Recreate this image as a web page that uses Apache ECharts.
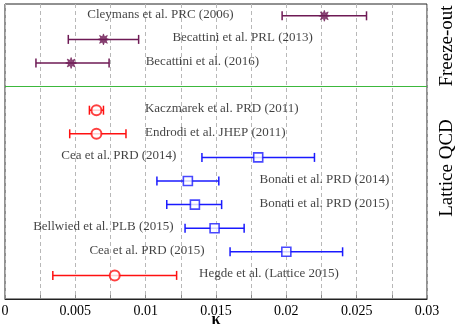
<!DOCTYPE html>
<html><head><meta charset="utf-8">
<script src="https://cdn.jsdelivr.net/npm/echarts@6/dist/echarts.min.js"></script>
<style>html,body{margin:0;padding:0;background:#fff}#c{width:457px;height:328px}</style>
</head><body><div id="c"></div>
<script>
// Data
var names = ["Cleymans et al. PRC (2006)","Becattini et al. PRL (2013)","Becattini et al. (2016)",
  "Kaczmarek et al. PRD (2011)","Endrodi et al. JHEP (2011)","Cea et al. PRD (2014)",
  "Bonati et al. PRD (2014)","Bonati et al. PRD (2015)","Bellwied et al. PLB (2015)",
  "Cea et al. PRD (2015)","Hegde et al. (Lattice 2015)"];
var kappa = [0.0227,0.0070,0.0047,0.0065,0.0065,0.0180,0.0130,0.0135,0.0149,0.0200,0.0078];
var lower = [0.0197,0.0045,0.0022,0.0060,0.0046,0.0140,0.0108,0.0115,0.0128,0.0160,0.0034];
var upper = [0.0257,0.0095,0.0074,0.0070,0.0086,0.0220,0.0152,0.0154,0.0170,0.0240,0.0122];
var rows  = [12,11,10,8,7,6,5,4,3,2,1];
var kinds = ["fo","fo","fo","red","red","blue","blue","blue","blue","blue","red"];
var labelX = [0.00585,0.0119,0.0100,0.00995,0.00995,0.0040,0.0181,0.0181,0.0020,0.0060,0.0138];
var separatorRow = 9;
var xTicks = ["0","0.005","0.01","0.015","0.02","0.025","0.03"];
var xTitle = "κ";
var groupLabels = ["Freeze-out","Lattice QCD"];

var colors = {fo:"#6e1a55", red:"#ff1010", blue:"#1a1aff"};
var star = "path://M20 10 L14.6 11.9 L17.07 17.07 L11.9 14.6 L10 20 L8.1 14.6 L2.93 17.07 L5.4 11.9 L0 10 L5.4 8.1 L2.93 2.93 L8.1 5.4 L10 0 L11.9 5.4 L17.07 2.93 L14.6 8.1 Z";
var serif = "'Liberation Serif','DejaVu Serif',serif";

function pick(kind){
  var out=[];
  for(var i=0;i<names.length;i++) if(kinds[i]===kind) out.push([kappa[i],rows[i]]);
  return out;
}
var errData = names.map(function(n,i){return [lower[i],upper[i],rows[i],i];});
var labelData = names.map(function(n,i){return {value:[labelX[i],rows[i]],name:n};});

var chart = echarts.init(document.getElementById('c'));
chart.setOption({
  animation:false,
  grid:{left:5,right:30,top:4,bottom:29,outerBoundsMode:'none',containLabel:false,show:true,borderColor:'#222',borderWidth:1,backgroundColor:'transparent'},
  xAxis:{type:'value',min:0,max:0.03,interval:0.0025,
    axisLine:{show:true,lineStyle:{color:'#222',width:1}},
    axisTick:{show:true,inside:true,length:4,lineStyle:{color:'#888'}},
    splitLine:{show:true,lineStyle:{color:'#b8b8b8',type:[4,3],width:1}},
    axisLabel:{fontFamily:serif,fontSize:14,color:'#000',margin:5,
      formatter:function(v){var k=Math.round(v/0.0025);return k%2===0?xTicks[k/2]:'';}}
  },
  yAxis:{type:'value',min:0,max:12.5,show:false,splitLine:{show:false}},
  series:[
    {type:'custom',data:errData,z:3,renderItem:function(params,api){
      var a=api.coord([api.value(0),api.value(2)]);
      var b=api.coord([api.value(1),api.value(2)]);
      var c=colors[kinds[api.value(3)]];
      var h=4.5;
      var st={stroke:c,lineWidth:1.5};
      return {type:'group',children:[
        {type:'line',shape:{x1:a[0],y1:a[1],x2:b[0],y2:b[1]},style:st},
        {type:'line',shape:{x1:a[0],y1:a[1]-h,x2:a[0],y2:a[1]+h},style:st},
        {type:'line',shape:{x1:b[0],y1:b[1]-h,x2:b[0],y2:b[1]+h},style:st}
      ]};
    }},
    {type:'scatter',data:pick('fo'),symbol:star,symbolSize:11,z:4,itemStyle:{color:colors.fo,borderColor:colors.fo,borderWidth:0.8}},
    {type:'scatter',data:pick('red'),symbol:'circle',symbolSize:10,z:4,itemStyle:{color:'#fff',borderColor:colors.red,borderWidth:2}},
    {type:'scatter',data:pick('blue'),symbol:'rect',symbolSize:9,z:4,itemStyle:{color:'#fff',borderColor:colors.blue,borderWidth:1.6}},
    {type:'scatter',data:labelData,symbolSize:0,z:5,silent:true,
      label:{show:true,position:'right',distance:0,offset:[0,-1.5],formatter:'{b}',fontFamily:serif,fontSize:13,color:'#111'},
      markLine:{silent:true,symbol:'none',label:{show:false},lineStyle:{color:'#3cb83c',type:'solid',width:1},data:[{yAxis:separatorRow}]}
    }
  ],
  graphic:[
    {type:'text',x:216,y:320,style:{text:xTitle,font:'bold 16px '+serif,fill:'#000',align:'center',verticalAlign:'middle'}},
    {type:'text',x:447,y:46,rotation:Math.PI/2,style:{text:groupLabels[0],font:'19px '+serif,fill:'#000',align:'center',verticalAlign:'middle'}},
    {type:'text',x:447,y:168,rotation:Math.PI/2,style:{text:groupLabels[1],font:'19px '+serif,fill:'#000',align:'center',verticalAlign:'middle'}}
  ]
});
</script></body></html>
